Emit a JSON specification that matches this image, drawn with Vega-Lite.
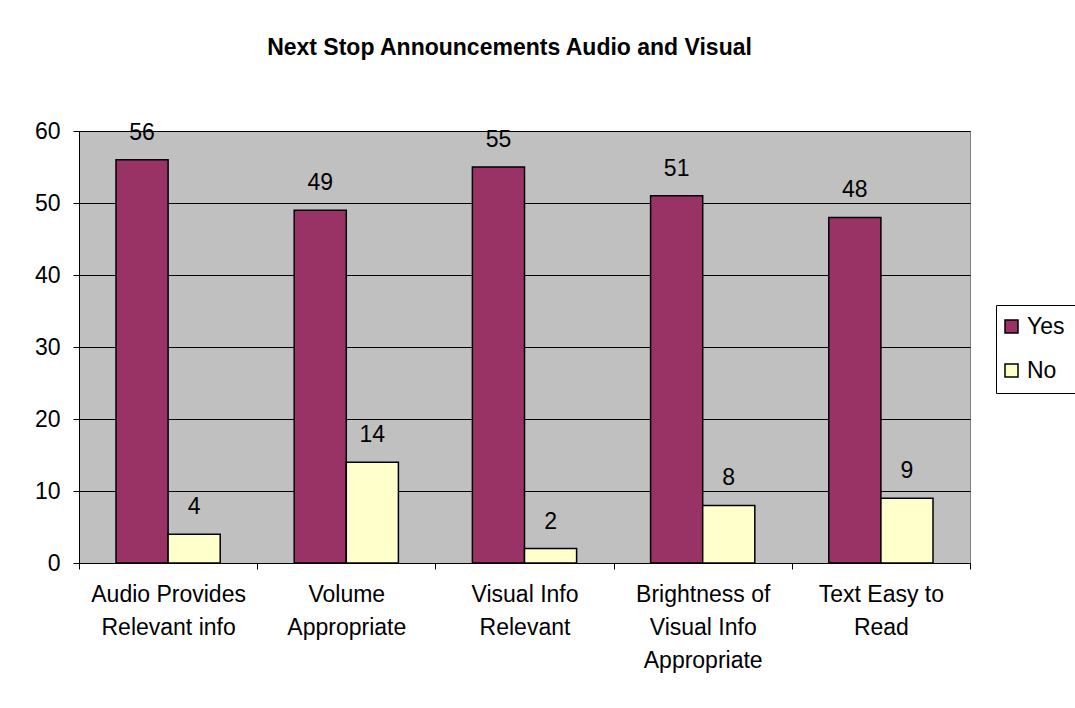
{
  "$schema": "https://vega.github.io/schema/vega-lite/v6.json",
  "width": 891,
  "height": 432,
  "autosize": "none",
  "padding": {"left": 79, "top": 131, "right": 105, "bottom": 145},
  "background": "white",
  "title": {
    "text": "Next Stop Announcements Audio and Visual",
    "font": "Liberation Sans",
    "fontSize": 23,
    "fontWeight": "bold",
    "color": "black",
    "anchor": "middle",
    "baseline": "alphabetic",
    "offset": 42,
    "dx": -15
  },
  "data": {
    "values": [
      {"category": "Audio Provides\nRelevant info", "answer": "Yes", "count": 56},
      {"category": "Audio Provides\nRelevant info", "answer": "No", "count": 4},
      {"category": "Volume\nAppropriate", "answer": "Yes", "count": 49},
      {"category": "Volume\nAppropriate", "answer": "No", "count": 14},
      {"category": "Visual Info\nRelevant", "answer": "Yes", "count": 55},
      {"category": "Visual Info\nRelevant", "answer": "No", "count": 2},
      {"category": "Brightness of\nVisual Info\nAppropriate", "answer": "Yes", "count": 51},
      {"category": "Brightness of\nVisual Info\nAppropriate", "answer": "No", "count": 8},
      {"category": "Text Easy to\nRead", "answer": "Yes", "count": 48},
      {"category": "Text Easy to\nRead", "answer": "No", "count": 9}
    ]
  },
  "encoding": {
    "x": {
      "field": "category",
      "type": "nominal",
      "sort": null,
      "scale": {"paddingInner": 0, "paddingOuter": 0},
      "axis": {
        "title": null,
        "labelAngle": 0,
        "labelExpr": "isValid(datum.value) ? split(datum.value, '\\n') : ''",
        "labelFont": "Liberation Sans",
        "labelFontSize": 23,
        "labelColor": "black",
        "labelLineHeight": 33,
        "labelPadding": 14,
        "labelBaseline": "top",
        "tickBand": "extent",
        "tickColor": "black",
        "tickSize": 6,
        "domainColor": "black",
        "grid": false
      }
    },
    "xOffset": {
      "field": "answer",
      "sort": ["Yes", "No"],
      "scale": {"paddingInner": 0, "paddingOuter": 0.71}
    },
    "y": {
      "field": "count",
      "type": "quantitative",
      "scale": {"domain": [0, 60]},
      "axis": {
        "title": null,
        "values": [0, 10, 20, 30, 40, 50, 60],
        "labelFont": "Liberation Sans",
        "labelFontSize": 23,
        "labelColor": "black",
        "labelPadding": 13,
        "tickColor": "black",
        "tickSize": 6,
        "domainColor": "black",
        "gridColor": "black",
        "gridOpacity": 1,
        "gridWidth": 1
      }
    }
  },
  "layer": [
    {
      "mark": {"type": "bar", "stroke": "black", "strokeWidth": 1.5},
      "encoding": {
        "color": {
          "field": "answer",
          "type": "nominal",
          "sort": ["Yes", "No"],
          "scale": {"domain": ["Yes", "No"], "range": ["#993366", "#FFFFCC"]},
          "legend": {
            "title": null,
            "orient": "none",
            "legendX": 917,
            "legendY": 174,
            "symbolType": "square",
            "symbolSize": 169,
            "symbolOffset": -6,
            "symbolStrokeColor": "black",
            "symbolStrokeWidth": 1.5,
            "labelFont": "Liberation Sans",
            "labelFontSize": 23,
            "labelColor": "black",
            "strokeColor": "black",
            "padding": 10,
            "rowPadding": 20,
            "labelOffset": 4
          }
        }
      }
    },
    {
      "mark": {
        "type": "text",
        "font": "Liberation Sans",
        "fontSize": 23,
        "color": "black",
        "baseline": "alphabetic",
        "dy": -20
      },
      "encoding": {
        "text": {"field": "count", "type": "quantitative"}
      }
    }
  ],
  "config": {
    "view": {"fill": "#C0C0C0", "stroke": "#808080", "strokeWidth": 1}
  }
}
